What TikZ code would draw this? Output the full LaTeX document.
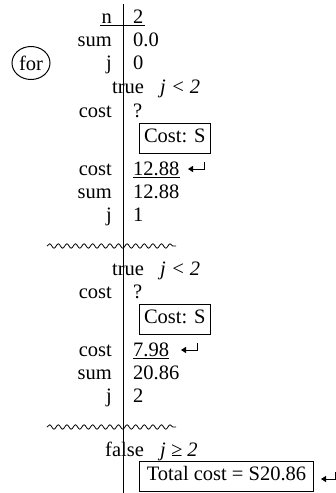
\documentclass[tikz,border=0pt]{standalone}
\usepackage{fontspec}
\setmainfont{Liberation Serif}
\usetikzlibrary{decorations.pathmorphing,shapes.geometric,calc,arrows.meta}
\begin{document}
\begin{tikzpicture}[x=1pt,y=-1pt,
  font=\fontsize{20.5}{24}\selectfont,
  lab/.style={anchor=base east, inner sep=0pt},
  val/.style={anchor=base west, inner sep=0pt},
  boxnode/.style={draw, line width=1pt, anchor=west, inner xsep=4.5pt, inner ysep=5.5pt, text height=14pt, text depth=5pt},
  wave/.style={decorate, decoration={snake, amplitude=2.2pt, segment length=8.6pt}, line width=0.8pt},
  retarrow/.style={line width=1pt, -{Triangle[length=5pt,width=6pt]}},
  uline/.style={line width=0.8pt}
]
\useasboundingbox (0,0) rectangle (336,493);

% axis
\coordinate (top) at (123,4);
\coordinate (bot) at (123,493);
\draw[line width=1pt] (top) -- (bot);

% for
\node[draw, ellipse, line width=1pt, minimum width=38pt, minimum height=33pt, inner sep=0pt] (for) at (31,63) {for};

% header
\node[lab] (nlab) at (112,23.5) {n};
\node[val] (nval) at (133,23.5) {2};
\draw[uline] ($(nlab.base west)+(-1,2)$) -- ($(nval.base east)+(1,2)$);

\node[lab] (sum0) at (112,46) {sum};
\node[val] (sum0v) at (133,46) {0.0};
\node[lab] (j0) at (112,69) {j};
\node[val] (j0v) at (133,69) {0};

% iteration 1
\node[val] (t1) at (112,93) {true};
\node[val] (c1) at (160,93) {\itshape j < 2};
\node[lab] (cost1) at (112,117) {cost};
\node[val] (cost1v) at (133,117) {?};
\node[boxnode] (box1) at (139,138) {Cost: S};
\node[lab] (cost1b) at (112,175) {cost};
\node[val] (cost1bv) at (133,175) {12.88};
\draw[uline] ($(cost1bv.base west)+(0,2)$) -- ($(cost1bv.base east)+(0,2)$);
\coordinate (r1a) at (204,162);
\coordinate (r1b) at (204,169);
\coordinate (r1c) at (188,169);
\draw[retarrow] (r1a) -- (r1b) -- (r1c);
\node[lab] (sum1) at (112,198) {sum};
\node[val] (sum1v) at (133,198) {12.88};
\node[lab] (j1) at (112,221) {j};
\node[val] (j1v) at (133,221) {1};

\coordinate (w1a) at (47,246);
\coordinate (w1b) at (176,246);
\draw[wave] (w1a) -- (w1b);

% iteration 2
\node[val] (t2) at (112,275) {true};
\node[val] (c2) at (160,275) {\itshape j < 2};
\node[lab] (cost2) at (112,298) {cost};
\node[val] (cost2v) at (133,298) {?};
\node[boxnode] (box2) at (139,319) {Cost: S};
\node[lab] (cost2b) at (112,356) {cost};
\node[val] (cost2bv) at (133,356) {7.98};
\draw[uline] ($(cost2bv.base west)+(0,2)$) -- ($(cost2bv.base east)+(0,2)$);
\coordinate (r2a) at (197,343);
\coordinate (r2b) at (197,350);
\coordinate (r2c) at (181,350);
\draw[retarrow] (r2a) -- (r2b) -- (r2c);
\node[lab] (sum2) at (112,379) {sum};
\node[val] (sum2v) at (133,379) {20.86};
\node[lab] (j2) at (112,402) {j};
\node[val] (j2v) at (133,402) {2};

\coordinate (w2a) at (47,427);
\coordinate (w2b) at (176,427);
\draw[wave] (w2a) -- (w2b);

% exit
\node[val] (f3) at (105,456) {false};
\node[val] (c3) at (160,456) {\itshape j ≥ 2};
\node[boxnode, minimum width=174pt] (box3) at (139,476) {Total cost = S20.86};
\coordinate (r3a) at (335,472);
\coordinate (r3b) at (335,479);
\coordinate (r3c) at (321,479);
\draw[retarrow] (r3a) -- (r3b) -- (r3c);
\end{tikzpicture}
\end{document}
